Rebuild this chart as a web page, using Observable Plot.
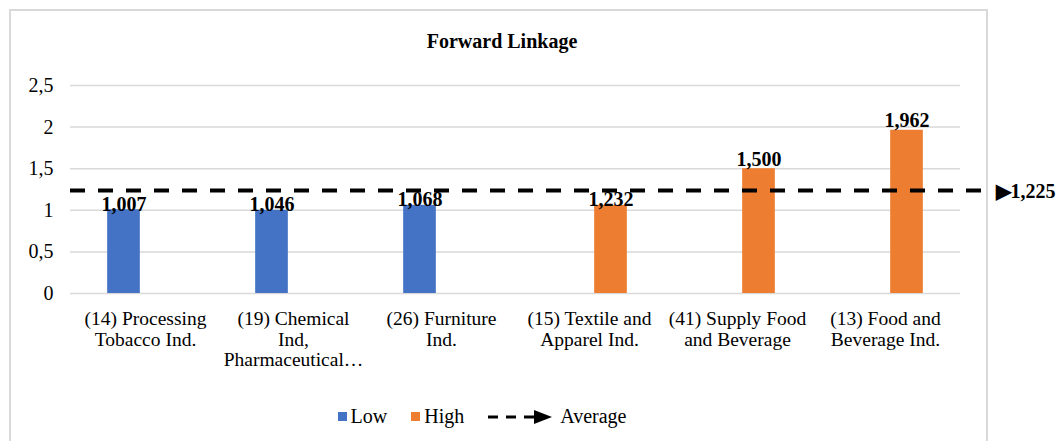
<!DOCTYPE html>
<html>
<head>
<meta charset="utf-8">
<script src="https://cdn.jsdelivr.net/npm/d3@7"></script>
<script src="https://cdn.jsdelivr.net/npm/@observablehq/plot@0.6"></script>
<style>
  html, body { margin: 0; padding: 0; background: #fff; }
  #wrap { position: relative; width: 1064px; height: 441px; overflow: hidden; font-family: "Liberation Serif", "Times New Roman", serif; color: #000; }
  #frame { position: absolute; left: 9px; top: 9px; width: 979px; height: 450px; border: 2px solid #d9d9d9; border-bottom: none; box-sizing: border-box; }
  #title { position: absolute; left: 0; width: 1004px; top: 30px; text-align: center; font-weight: bold; font-size: 20px; }
  #chart { position: absolute; left: 0; top: 0; }
  #chart svg, #chart svg text { font-family: "Liberation Serif", "Times New Roman", serif !important; }
  #legend { position: absolute; top: 405px; left: 0; width: 964px; display: flex; justify-content: center; align-items: center; font-size: 20px; }
  .sw { display: inline-block; width: 9px; height: 9px; margin-right: 4px; }
  .item { display: flex; align-items: center; margin: 0 12px; }
</style>
</head>
<body>
<div id="wrap">
  <div id="frame"></div>
  <div id="title">Forward Linkage</div>
  <div id="chart"></div>
  <div id="legend"></div>
</div>
<script>
// ---- data ----
const categories = [
  "(14) Processing\nTobacco Ind.",
  "(19) Chemical\nInd,\nPharmaceutical…",
  "(26) Furniture\nInd.",
  "(15) Textile and\nApparel Ind.",
  "(41) Supply Food\nand Beverage",
  "(13) Food and\nBeverage Ind."
];
const series = ["Low", "Low", "Low", "High", "High", "High"];
// bar heights as drawn in the picture
const values = [1.007, 1.0, 1.06, 1.06, 1.5, 1.962];
// data labels as printed
const labels = ["1,007", "1,046", "1,068", "1,232", "1,500", "1,962"];
const average = 1.225;
const averageLabel = "1,225";
const seriesNames = ["Low", "High"];
const seriesColors = ["#4472C4", "#ED7D31"];
const yTicks = [0, 0.5, 1, 1.5, 2, 2.5];

const rows = categories.map((c, i) => ({cat: c, series: series[i], value: values[i], label: labels[i]}));
const fmt = d => String(d).replace(".", ",");
const FONT = '"Liberation Serif", "Times New Roman", serif';
const OFF = 21.5, BAR = 33;
const bandW = (1064 - 70 - 104) / categories.length;
const inset = (bandW - BAR) / 2;

const labelMarks = [];
seriesNames.forEach((s, si) => {
  const dx = si === 0 ? -OFF : OFF;
  const sub = rows.filter(d => d.series === s);
  const below = sub.filter(d => d.value < average);
  const above = sub.filter(d => d.value >= average);
  labelMarks.push(Plot.text(below, {x: "cat", y: "value", text: "label", dx, dy: 1, lineAnchor: "bottom", fontWeight: "bold", fontSize: 20}));
  labelMarks.push(Plot.text(above, {x: "cat", y: "value", text: "label", dx, dy: -3, lineAnchor: "bottom", fontWeight: "bold", fontSize: 20}));
});

const chart = Plot.plot({
  width: 1064,
  height: 385,
  marginLeft: 70,
  marginRight: 104,
  marginTop: 85,
  marginBottom: 92,
  style: {fontFamily: FONT, fontSize: "20px", color: "#000", background: "transparent", overflow: "visible"},
  x: {domain: categories, padding: 0},
  y: {domain: [0, 2.5]},
  color: {domain: seriesNames, range: seriesColors},
  marks: [
    Plot.ruleY(yTicks, {stroke: "#d9d9d9", strokeWidth: 1.5}),
    Plot.axisY({ticks: yTicks, tickFormat: fmt, tickSize: 0, tickPadding: 17, fontSize: 20, label: null}),
    Plot.axisX({tickSize: 0, tickPadding: 17, fontSize: 19.5, lineHeight: 1.05, label: null}),
    Plot.barY(rows.filter(d => d.series === "Low"), {x: "cat", y: "value", fill: "series", insetLeft: inset, insetRight: inset, dx: -OFF}),
    Plot.barY(rows.filter(d => d.series === "High"), {x: "cat", y: "value", fill: "series", insetLeft: inset, insetRight: inset, dx: OFF}),
    Plot.ruleY([average], {stroke: "#000", strokeWidth: 4, strokeDasharray: "15,13", insetRight: -23, dy: -1}),
    ...labelMarks,
    Plot.text([average], {y: d => d, frameAnchor: "right", dx: 35, textAnchor: "start", text: d => "▶" + averageLabel, fontWeight: "bold", fontSize: 20})
  ]
});
document.getElementById("chart").appendChild(chart);

// legend
const legend = document.getElementById("legend");
seriesNames.forEach((s, i) => {
  const it = document.createElement("div");
  it.className = "item";
  it.innerHTML = `<span class="sw" style="background:${seriesColors[i]}"></span>${s}`;
  legend.appendChild(it);
});
const avg = document.createElement("div");
avg.className = "item";
avg.innerHTML = `<svg width="66" height="14" style="margin-right:6px"><line x1="0" y1="7" x2="50" y2="7" stroke="#000" stroke-width="3" stroke-dasharray="10,8"/><path d="M46,0 L64,7 L46,14 Z" fill="#000"/></svg>Average`;
legend.appendChild(avg);
</script>
</body>
</html>
